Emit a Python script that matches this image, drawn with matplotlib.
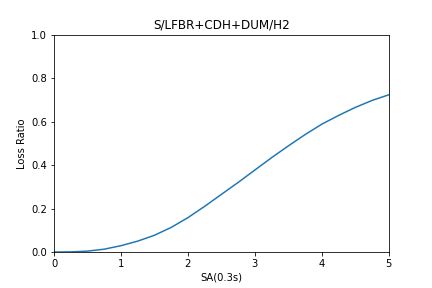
import matplotlib
matplotlib.use("Agg")
import matplotlib.pyplot as plt

# intensity measure (SA at 0.3s) and the loss ratio
sa = [0.0, 0.25, 0.5, 0.75, 1.0, 1.25, 1.5, 1.75, 2.0, 2.25, 2.5,
      2.75, 3.0, 3.25, 3.5, 3.75, 4.0, 4.25, 4.5, 4.75, 5.0]
loss_ratio = [0.0, 0.0005, 0.004, 0.013, 0.029, 0.05, 0.077, 0.113, 0.158, 0.21, 0.265,
              0.32, 0.377, 0.434, 0.488, 0.54, 0.588, 0.628, 0.665, 0.697, 0.723]

fig, ax = plt.subplots(figsize=(6, 4), dpi=72)
fig.subplots_adjust(bottom=0.125)
ax.plot(sa, loss_ratio)
ax.set_xlim(0, 5)
ax.set_ylim(0, 1)
ax.set_xlabel("SA(0.3s)")
ax.set_ylabel("Loss Ratio")
ax.set_title("S/LFBR+CDH+DUM/H2")

fig.savefig("out.png", dpi=72)
